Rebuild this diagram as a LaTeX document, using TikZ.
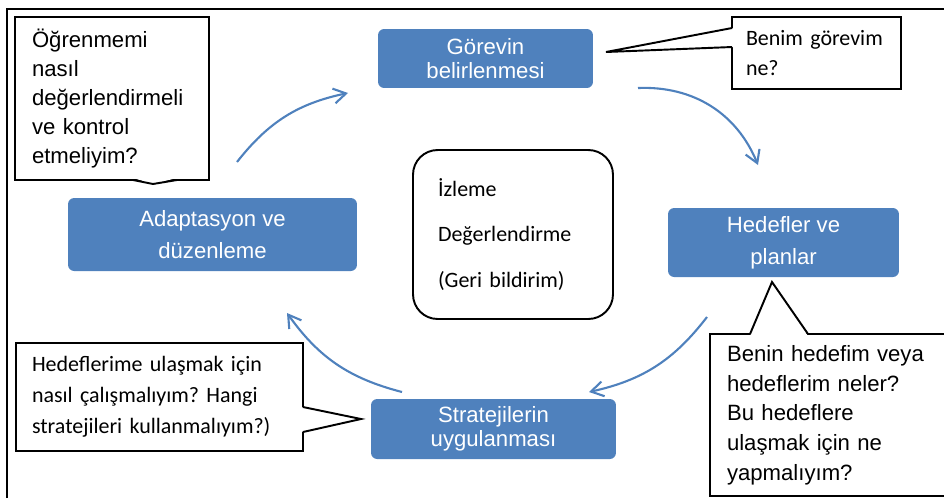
\documentclass[tikz,border=0pt]{standalone}
\usepackage{fontspec}
\setmainfont{Liberation Sans}
\newfontfamily\calibri{Carlito}
\usetikzlibrary{arrows.meta,calc}
\definecolor{ofblue}{HTML}{4F81BD}
\frenchspacing

\begin{document}
\begin{tikzpicture}[x=0.02cm,y=-0.02cm,
 task/.style={fill=ofblue,text=white,rounded corners=3.5pt,align=center,inner sep=0pt,font=\fontsize{12.6}{13.5}\selectfont},
 note/.style={draw,line width=1.1pt,fill=white,outer sep=0pt,align=left,inner ysep=0pt,font=\fontsize{12.6}{16.5}\selectfont},
 flow/.style={draw=ofblue,line width=1.2pt,-{Straight Barb[length=7pt,width=8.5pt]}},
 ptr/.style={line width=1.1pt,line join=miter}]
\useasboundingbox (0,0) rectangle (944,498);
\draw[line width=0.7pt] (7,498) -- (7,9) -- (944,9);

% the four steps of the cycle
\node[task,minimum width=4.3cm,minimum height=1.18cm] (task) at (485.5,58.5) {Görevin\\belirlenmesi};
\node[task,minimum width=4.62cm,minimum height=1.38cm,font=\fontsize{12.6}{18}\selectfont] (plan) at (783.5,242.5) {Hedefler ve\\planlar};
\node[task,minimum width=4.9cm,minimum height=1.2cm] (strat) at (493.5,429) {Stratejilerin\\uygulanması};
\node[task,minimum width=5.78cm,minimum height=1.46cm,font=\fontsize{12.6}{18}\selectfont] (adapt) at (212.5,234.5) {Adaptasyon ve\\düzenleme};

% centre
\node[draw,line width=1.1pt,rounded corners=14pt,minimum height=3.38cm,inner xsep=0.5cm,text width=3cm,align=left,font=\calibri\fontsize{12.5}{26}\selectfont] (mon) at (513,234.5) {İzleme\\Değerlendirme\\(Geri bildirim)};

% arrows round the cycle
\coordinate (f1a) at (237,162); \coordinate (f1b) at (348,93);
\coordinate (f2a) at (638,88); \coordinate (f2b) at (758,165);
\coordinate (f3a) at (707,317); \coordinate (f3b) at (589,392);
\coordinate (f4a) at (402,392); \coordinate (f4b) at (287,313);
\draw[flow] (f1a) to[bend left=20] (f1b);
\draw[flow] (f2a) to[bend left=35] (f2b);
\draw[flow] (f3a) to[bend left=20] (f3b);
\draw[flow] (f4a) to[bend left=20] (f4b);

% question callouts
\node[note,inner xsep=0.28cm,text width=2.82cm,minimum height=1.44cm,font=\calibri\fontsize{12.5}{17.5}\selectfont] (qtask) at (816.5,53) {Benim görevim\\ne?};
\coordinate (qtaskTip) at (606,52);
\fill[white] ($(qtask.north west)+(2,11)$) -- (qtaskTip) -- ($(qtask.north west)+(2,30)$) -- cycle;
\draw[ptr] ($(qtask.north west)+(0,11)$) -- (qtaskTip) -- ($(qtask.north west)+(0,30)$);

\node[note,inner xsep=0.34cm,text width=4.08cm,minimum height=3.24cm,font=\fontsize{12.6}{16.9}\selectfont] (qplan) at (829,415) {Benin hedefim veya\\hedeflerim neler?\\Bu hedeflere\\ulaşmak için ne\\yapmalıyım?};
\coordinate (qplanTip) at (772,282);
\fill[white] ($(qplan.north west)+(40,2)$) -- (qplanTip) -- ($(qplan.north west)+(98,2)$) -- cycle;
\draw[ptr] ($(qplan.north west)+(40,0)$) -- (qplanTip) -- ($(qplan.north west)+(98,0)$);

\node[note,inner xsep=0.32cm,text width=5.1cm,minimum height=2.16cm,font=\calibri\fontsize{12.5}{17.6}\selectfont] (qstrat) at (159.5,397) {Hedeflerime ulaşmak için\\nasıl çalışmalıyım? Hangi\\stratejileri kullanmalıyım?)};
\coordinate (qstratTip) at (361,419);
\fill[white] ($(qstrat.north east)+(-2,64)$) -- (qstratTip) -- ($(qstrat.north east)+(-2,89)$) -- cycle;
\draw[ptr] ($(qstrat.north east)+(0,64)$) -- (qstratTip) -- ($(qstrat.north east)+(0,89)$);

\node[note,inner xsep=0.34cm,text width=3.2cm,minimum height=3.26cm] (qadapt) at (112,98.5) {Öğrenmemi\\nasıl\\değerlendirmeli\\ve kontrol\\etmeliyim?};
\coordinate (qadaptTip) at (153,184);
\fill[white] ($(qadapt.south west)+(118,-2)$) -- (qadaptTip) -- ($(qadapt.south west)+(162,-2)$) -- cycle;
\draw[ptr] ($(qadapt.south west)+(118,0)$) -- (qadaptTip) -- ($(qadapt.south west)+(162,0)$);
\end{tikzpicture}
\end{document}
